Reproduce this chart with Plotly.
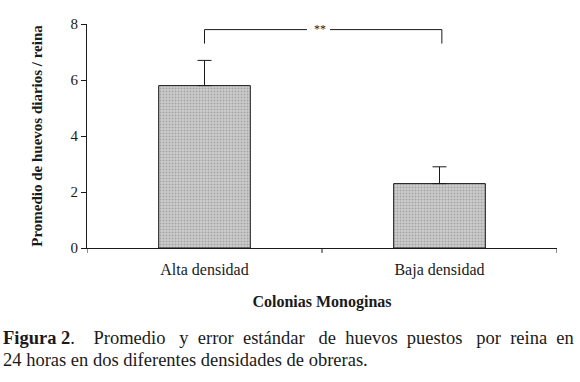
import plotly.graph_objects as go

categories = ["Alta densidad", "Baja densidad"]
means = [5.8, 2.3]
std_err = [0.9, 0.6]
y_ticks = [0, 2, 4, 6, 8]
signif_label = "**"
x_title = "Colonias Monoginas"
y_title = "Promedio de huevos diarios / reina"
caption_bold = "Figura 2"
caption_line1 = ".  Promedio y error estándar de huevos puestos por reina en"
caption_line2 = "24 horas en dos diferentes densidades de obreras."

W, H = 580, 382
ML, MR, MT, MB = 87, 23, 23.5, 133.7
plot_h = H - MT - MB
plot_w = W - ML - MR

def px_to_paper_y(py):
    return (H - MB - py) / plot_h

def px_to_paper_x(px):
    return (px - ML) / plot_w

SERIF = "Liberation Serif, Times New Roman, serif"
INK = "#1a1a1a"

fig = go.Figure()
fig.add_trace(go.Bar(
    x=[0, 1], y=means,
    width=0.39,
    marker=dict(
        color="#c0c0c0",
        line=dict(color=INK, width=1),
        pattern=dict(shape=".", fgcolor="#7c7c7c", bgcolor="#cdcdcd", size=3, solidity=0.35),
    ),
    error_y=dict(type="data", array=std_err, symmetric=False, arrayminus=[0, 0],
                 color=INK, thickness=1, width=7),
    showlegend=False,
    hoverinfo="skip",
))

# significance bracket
br_y, leg_y = 7.8, 7.3
gap_l, gap_r = 0.436, 0.534
line = dict(color=INK, width=1)
fig.add_shape(type="line", x0=0, x1=0, y0=leg_y, y1=br_y, line=line)
fig.add_shape(type="line", x0=1.01, x1=1.01, y0=leg_y, y1=br_y, line=line)
fig.add_shape(type="line", x0=0, x1=gap_l, y0=br_y, y1=br_y, line=line)
fig.add_shape(type="line", x0=gap_r, x1=1.01, y0=br_y, y1=br_y, line=line)
fig.add_annotation(x=0.49, y=br_y, text=signif_label, showarrow=False,
                   font=dict(family=SERIF, size=12, color=INK), yshift=1)

# caption (first line is justified in the original -> widened word gaps)
words = caption_line1.split(" ")
wide_after = {"Promedio", "estándar", "puestos"}
line1_text = ""
for i, w in enumerate(words):
    line1_text += w
    if i < len(words) - 1:
        line1_text += "\u00a0\u00a0\u00a0" if w in wide_after else "\u00a0\u00a0"
CAP_SIZE = 18.5
fig.add_annotation(xref="paper", yref="paper", x=px_to_paper_x(1), y=px_to_paper_y(338.8),
                   xanchor="left", yanchor="middle", showarrow=False,
                   text="<b>" + caption_bold + "</b>" + line1_text,
                   font=dict(family=SERIF, size=CAP_SIZE, color=INK))
fig.add_annotation(xref="paper", yref="paper", x=px_to_paper_x(1), y=px_to_paper_y(360.3),
                   xanchor="left", yanchor="middle", showarrow=False,
                   text=caption_line2,
                   font=dict(family=SERIF, size=CAP_SIZE, color=INK))

fig.update_layout(
    width=W, height=H,
    margin=dict(l=ML, r=MR, t=MT, b=MB, pad=0),
    paper_bgcolor="white", plot_bgcolor="white",
    font=dict(family=SERIF, color=INK),
    xaxis=dict(
        range=[-0.5, 1.5],
        tickmode="array", tickvals=[0, 1], ticktext=categories,
        showline=True, linecolor=INK, linewidth=1,
        ticks="", showgrid=False, zeroline=False,
        ticklabelstandoff=7,
        tickfont=dict(family=SERIF, size=16, color=INK),
        title=dict(text="<b>" + x_title + "</b>", font=dict(family=SERIF, size=16, color=INK), standoff=17),
    ),
    yaxis=dict(
        range=[0, 8], tickvals=y_ticks,
        showline=True, linecolor=INK, linewidth=1,
        ticks="outside", ticklen=5, tickcolor=INK,
        showgrid=False, zeroline=False,
        tickfont=dict(family=SERIF, size=15, color=INK),
        title=dict(text="<b>" + y_title + "</b>", font=dict(family=SERIF, size=15, color=INK), standoff=24),
    ),
)

# x-axis boundary ticks (at category boundaries)
for xb in [-0.5, 0.5, 1.5]:
    fig.add_shape(type="line", xref="x", yref="paper", x0=xb, x1=xb, y0=0, y1=-0.022,
                  line=dict(color=INK, width=1))

fig.write_html("out.html", config={"displayModeBar": False},
               post_script="document.body.style.margin='0';")
